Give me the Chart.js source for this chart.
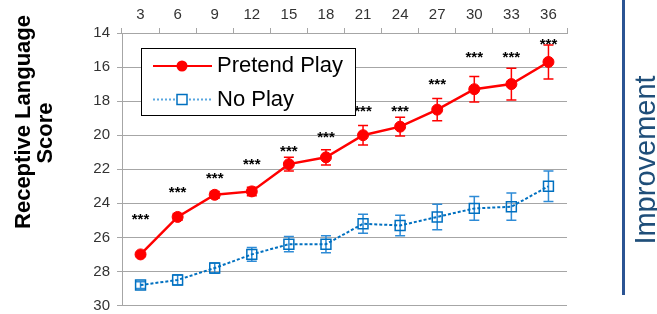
<!DOCTYPE html>
<html>
<head>
<meta charset="utf-8">
<script src="https://cdn.jsdelivr.net/npm/chart.js@4/dist/chart.umd.min.js"></script>
<style>
  html, body { margin: 0; padding: 0; background: #fff; }
  #wrap { width: 657px; height: 314px; }
</style>
</head>
<body>
<div id="wrap"><canvas id="scoreChart" width="657" height="314"></canvas></div>
<script>
// Chart data (age in months, receptive language score)
const months = ['3', '6', '9', '12', '15', '18', '21', '24', '27', '30', '33', '36'];
const pretendPlay = [27.0, 24.8, 23.5, 23.3, 21.7, 21.3, 20.0, 19.5, 18.5, 17.3, 17.0, 15.7];
const pretendErr = [0.1, 0.2, 0.2, 0.25, 0.4, 0.45, 0.57, 0.55, 0.65, 0.75, 0.93, 1.0];
const noPlay = [28.8, 28.5, 27.8, 27.0, 26.4, 26.4, 25.2, 25.3, 24.8, 24.3, 24.2, 23.0];
const noPlayErr = [0.2, 0.3, 0.3, 0.4, 0.45, 0.5, 0.56, 0.6, 0.75, 0.7, 0.8, 0.9];
const starLevels = [24.7, 23.1, 22.3, 21.45, 20.7, 19.9, 18.35, 18.35, 16.8, 15.2, 15.2, 14.4];
const yTicks = [14, 16, 18, 20, 22, 24, 26, 28, 30];

const FONT = 'Arial, "Liberation Sans", sans-serif';
const RED = '#ff0000';
const BLUE = '#0070c0';
const BLUE_ERR = '#2e8bd6';

// error bars, stars, legend and side labels
const decor = {
    id: 'decor',
    beforeDatasetsDraw(chart) {
        const ctx = chart.ctx;
        const x = chart.scales.x, y = chart.scales.y;
        const sets = [[pretendPlay, pretendErr, RED], [noPlay, noPlayErr, BLUE_ERR]];
        ctx.save();
        sets.forEach(([vals, errs, color]) => {
            ctx.strokeStyle = color;
            ctx.lineWidth = 1.5;
            vals.forEach((v, i) => {
                const px = x.getPixelForValue(i);
                const top = y.getPixelForValue(v - errs[i]);
                const bot = y.getPixelForValue(v + errs[i]);
                ctx.beginPath();
                ctx.moveTo(px, top); ctx.lineTo(px, bot);
                ctx.moveTo(px - 5, top); ctx.lineTo(px + 5, top);
                ctx.moveTo(px - 5, bot); ctx.lineTo(px + 5, bot);
                ctx.stroke();
            });
        });
        ctx.restore();
    },
    afterDraw(chart) {
        const ctx = chart.ctx;
        const x = chart.scales.x, y = chart.scales.y;
        ctx.save();

        // significance stars
        ctx.fillStyle = '#000';
        ctx.font = 'bold 15px ' + FONT;
        ctx.textAlign = 'center';
        ctx.textBaseline = 'alphabetic';
        starLevels.forEach((v, i) => {
            ctx.fillText('***', x.getPixelForValue(i), y.getPixelForValue(v) + 8.7);
        });

        // legend box
        ctx.fillStyle = '#fff';
        ctx.fillRect(141, 48, 215, 68);
        ctx.strokeStyle = '#000';
        ctx.lineWidth = 1;
        ctx.strokeRect(141.5, 48.5, 214, 67);

        ctx.strokeStyle = RED;
        ctx.lineWidth = 2;
        ctx.beginPath(); ctx.moveTo(153, 66); ctx.lineTo(212, 66); ctx.stroke();
        ctx.fillStyle = RED;
        ctx.beginPath(); ctx.arc(182, 66, 5.5, 0, Math.PI * 2); ctx.fill();

        ctx.strokeStyle = '#5aa7e0';
        ctx.setLineDash([2, 2]);
        ctx.beginPath(); ctx.moveTo(153, 99.5); ctx.lineTo(212, 99.5); ctx.stroke();
        ctx.setLineDash([]);
        ctx.strokeStyle = BLUE;
        ctx.lineWidth = 1.5;
        ctx.fillStyle = '#fff';
        ctx.fillRect(177, 94.5, 10, 10);
        ctx.strokeRect(177, 94.5, 10, 10);

        ctx.fillStyle = '#000';
        ctx.font = '22px ' + FONT;
        ctx.textAlign = 'left';
        ctx.textBaseline = 'middle';
        ctx.fillText('Pretend Play', 217, 66);
        ctx.fillText('No Play', 217, 100);

        // y axis title
        ctx.textAlign = 'center';
        ctx.textBaseline = 'middle';
        ctx.font = 'bold 22px ' + FONT;
        ctx.save();
        ctx.translate(24, 122);
        ctx.rotate(-Math.PI / 2);
        ctx.fillText('Receptive Language', 0, 0);
        ctx.restore();
        ctx.save();
        ctx.translate(46, 133);
        ctx.rotate(-Math.PI / 2);
        ctx.fillText('Score', 0, 0);
        ctx.restore();

        // improvement marker on the right
        ctx.strokeStyle = '#2b5493';
        ctx.lineWidth = 3;
        ctx.beginPath(); ctx.moveTo(623.5, 0); ctx.lineTo(623.5, 295); ctx.stroke();
        ctx.fillStyle = '#1f4e79';
        ctx.font = '29px ' + FONT;
        ctx.textBaseline = 'alphabetic';
        ctx.save();
        ctx.translate(655, 160);
        ctx.rotate(-Math.PI / 2);
        ctx.fillText('Improvement', 0, 0);
        ctx.restore();

        ctx.restore();
    }
};

const ctx = document.getElementById('scoreChart').getContext('2d');
const scoreChart = new Chart(ctx, {
    type: 'line',
    data: {
        labels: months,
        datasets: [
            {
                label: 'Pretend Play',
                data: pretendPlay,
                borderColor: RED,
                backgroundColor: RED,
                borderWidth: 2.5,
                tension: 0,
                pointStyle: 'circle',
                pointRadius: 5.5,
                pointBackgroundColor: RED,
                pointBorderColor: RED,
                pointBorderWidth: 1
            },
            {
                label: 'No Play',
                data: noPlay,
                borderColor: BLUE,
                backgroundColor: BLUE,
                borderWidth: 2,
                borderDash: [3, 2],
                tension: 0,
                pointStyle: 'rect',
                pointRadius: 7,
                pointBackgroundColor: 'rgba(255,255,255,0)',
                pointBorderColor: BLUE,
                pointBorderWidth: 1.5
            }
        ]
    },
    options: {
        responsive: false,
        animation: false,
        layout: { padding: { left: 0, right: 90, top: 0, bottom: 0 } },
        plugins: {
            legend: { display: false },
            tooltip: { enabled: false }
        },
        scales: {
            x: {
                position: 'top',
                offset: true,
                afterFit: function(scale) { scale.height = 33; },
                grid: {
                    offset: true,
                    drawOnChartArea: false,
                    drawTicks: true,
                    tickLength: 5,
                    color: '#a6a6a6'
                },
                border: { color: '#a6a6a6' },
                ticks: {
                    color: '#333',
                    font: { family: FONT, size: 15 },
                    padding: 4,
                    maxRotation: 0,
                    autoSkip: false
                }
            },
            y: {
                reverse: true,
                min: 14,
                max: 30,
                afterFit: function(scale) {
                    scale.width = 122;
                    scale.paddingTop = 0;
                    scale.paddingBottom = 0;
                },
                afterBuildTicks: function(scale) {
                    scale.ticks = yTicks.map(v => ({ value: v }));
                },
                grid: {
                    color: '#a6a6a6',
                    tickLength: 5
                },
                border: { color: '#a6a6a6' },
                ticks: {
                    color: '#333',
                    font: { family: FONT, size: 15 },
                    padding: 7
                }
            }
        }
    },
    plugins: [decor]
});
</script>
</body>
</html>
